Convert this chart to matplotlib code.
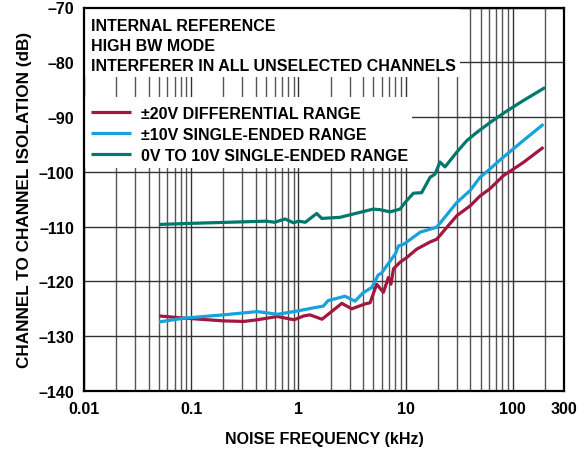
import matplotlib
matplotlib.use("Agg")
import matplotlib.pyplot as plt
from matplotlib.patches import Rectangle
from matplotlib.ticker import FixedLocator, NullFormatter

plt.rcParams['font.family'] = ['Liberation Sans', 'DejaVu Sans']
plt.rcParams['font.weight'] = 'bold'

# ---- data ----
freq_red = [0.05, 0.086, 0.2, 0.31, 0.414, 0.635, 0.91, 1.12, 1.28, 1.66, 2.54, 3.14,
            4.2, 4.66, 5.37, 6.2, 6.9, 7.3, 7.7, 8.87, 10.3, 12.7, 16.9, 19.5, 30, 40,
            49.4, 61, 81.6, 125, 193]
red = [-126.3, -126.7, -127.2, -127.3, -127.0, -126.4, -127.0, -126.3, -126.1, -126.9,
       -124.0, -125.0, -124.1, -123.9, -120.5, -122.0, -119.3, -120.5, -117.7, -116.5,
       -115.6, -114.1, -112.8, -112.3, -108.0, -106.2, -104.4, -103.1, -100.7, -98.3, -95.5]

freq_blue = [0.05, 0.086, 0.2, 0.414, 0.635, 0.98, 1.4, 1.71, 1.89, 2.72, 3.37, 4.0,
             4.83, 5.56, 5.95, 7.4, 8.0, 8.6, 9.6, 10.6, 13.7, 19.5, 30, 40, 49.4, 61,
             68.5, 87.7, 125, 193]
blue = [-127.4, -126.7, -126.1, -125.5, -126.0, -125.4, -124.8, -124.5, -123.5, -122.7,
        -123.6, -122.1, -121.1, -118.8, -118.5, -115.9, -115.0, -113.5, -113.2, -112.6,
        -111.0, -110.1, -105.6, -103.4, -101.0, -99.5, -98.6, -96.8, -94.3, -91.3]

freq_teal = [0.05, 0.1, 0.5, 0.6, 0.75, 0.9, 1.0, 1.16, 1.48, 1.65, 2.44, 4.97, 5.77,
             7.15, 8.87, 9.87, 11.8, 14.1, 16.9, 18.8, 20.9, 23.3, 30, 37.2, 46.1, 61.2,
             87.7, 125, 200]
teal = [-109.6, -109.4, -109.0, -109.2, -108.6, -109.3, -109.0, -109.2, -107.6, -108.5,
        -108.3, -106.8, -106.9, -107.3, -106.8, -105.6, -103.9, -103.8, -101.0, -100.4,
        -98.2, -99.1, -96.4, -94.3, -92.8, -91.0, -88.9, -87.0, -84.6]

series_labels = ['±20V DIFFERENTIAL RANGE', '±10V SINGLE-ENDED RANGE',
                 '0V TO 10V SINGLE-ENDED RANGE']
series_colors = ['#A3173F', '#16A3DC', '#00786D']

x_ticks = [0.01, 0.1, 1, 10, 100, 300]
x_ticklabels = ['0.01', '0.1', '1', '10', '100', '300']
y_ticks = [-140, -130, -120, -110, -100, -90, -80, -70]
y_ticklabels = ['\u2013140', '\u2013130', '\u2013120', '\u2013110', '\u2013100',
                '\u201390', '\u201380', '\u201370']
title_lines = ['INTERNAL REFERENCE', 'HIGH BW MODE', 'INTERFERER IN ALL UNSELECTED CHANNELS']

W, H = 584, 452
FS = 11.5

# ---- figure ----
fig = plt.figure(figsize=(W/100, H/100), dpi=100)
ax = fig.add_axes([84/W, 1-392/H, 480/W, (392-8.5)/H])
ax.set_xscale('log')
ax.set_xlim(0.01, 300)
ax.set_ylim(-140, -70)

minor = [m * 10.0**e for e in range(-2, 2) for m in range(2, 10)] + [200]
ax.xaxis.set_major_locator(FixedLocator(x_ticks))
ax.xaxis.set_minor_locator(FixedLocator(minor))
ax.xaxis.set_minor_formatter(NullFormatter())
ax.set_xticklabels(x_ticklabels)
ax.set_yticks(y_ticks)
ax.set_yticklabels(y_ticklabels)
ax.tick_params(which='both', length=0, labelsize=FS)
ax.tick_params(axis='x', pad=7)
ax.tick_params(axis='y', pad=7)
for lab in ax.get_xticklabels() + ax.get_yticklabels():
    lab.set_fontweight('bold')

ax.set_axisbelow(True)
ax.grid(which='major', axis='both', color='#333333', lw=1.0)
ax.grid(which='minor', axis='x', color='#555555', lw=1.0)
for s in ax.spines.values():
    s.set_linewidth(1.6)
    s.set_color('black')

# white boxes behind the annotation text (hide the grid)
ax.add_patch(Rectangle((0, 0.819), 0.783, 0.181, transform=ax.transAxes,
                       facecolor='white', edgecolor='none', zorder=1))
ax.add_patch(Rectangle((0, 0.581), 0.683, 0.186, transform=ax.transAxes,
                       facecolor='white', edgecolor='none', zorder=1))

handles = []
for fx, fy, lab, col in zip([freq_red, freq_blue, freq_teal], [red, blue, teal],
                            series_labels, series_colors):
    h, = ax.plot(fx, fy, color=col, lw=2.3, label=lab, zorder=3,
                 solid_joinstyle='round', solid_capstyle='butt')
    handles.append(h)

for i, t in enumerate(title_lines):
    fig.text(91/W, 1 - (31 + i*20)/H, t, fontsize=FS, fontweight='bold',
             va='baseline', ha='left', zorder=4)

leg = ax.legend(handles=handles, loc='upper left', bbox_to_anchor=(91/W, 1-107/H),
                bbox_transform=fig.transFigure, frameon=False, fontsize=FS,
                handlelength=2.5, handletextpad=0.62, labelspacing=0.37,
                borderpad=0, borderaxespad=0)
for t in leg.get_texts():
    t.set_fontweight('bold')
leg.set_zorder(5)

ax.set_xlabel('NOISE FREQUENCY (kHz)', fontsize=FS, fontweight='bold', labelpad=11)
ax.set_ylabel('CHANNEL TO CHANNEL ISOLATION (dB)', fontsize=12.3, fontweight='bold',
              labelpad=5)

fig.savefig('out.png', dpi=100)
